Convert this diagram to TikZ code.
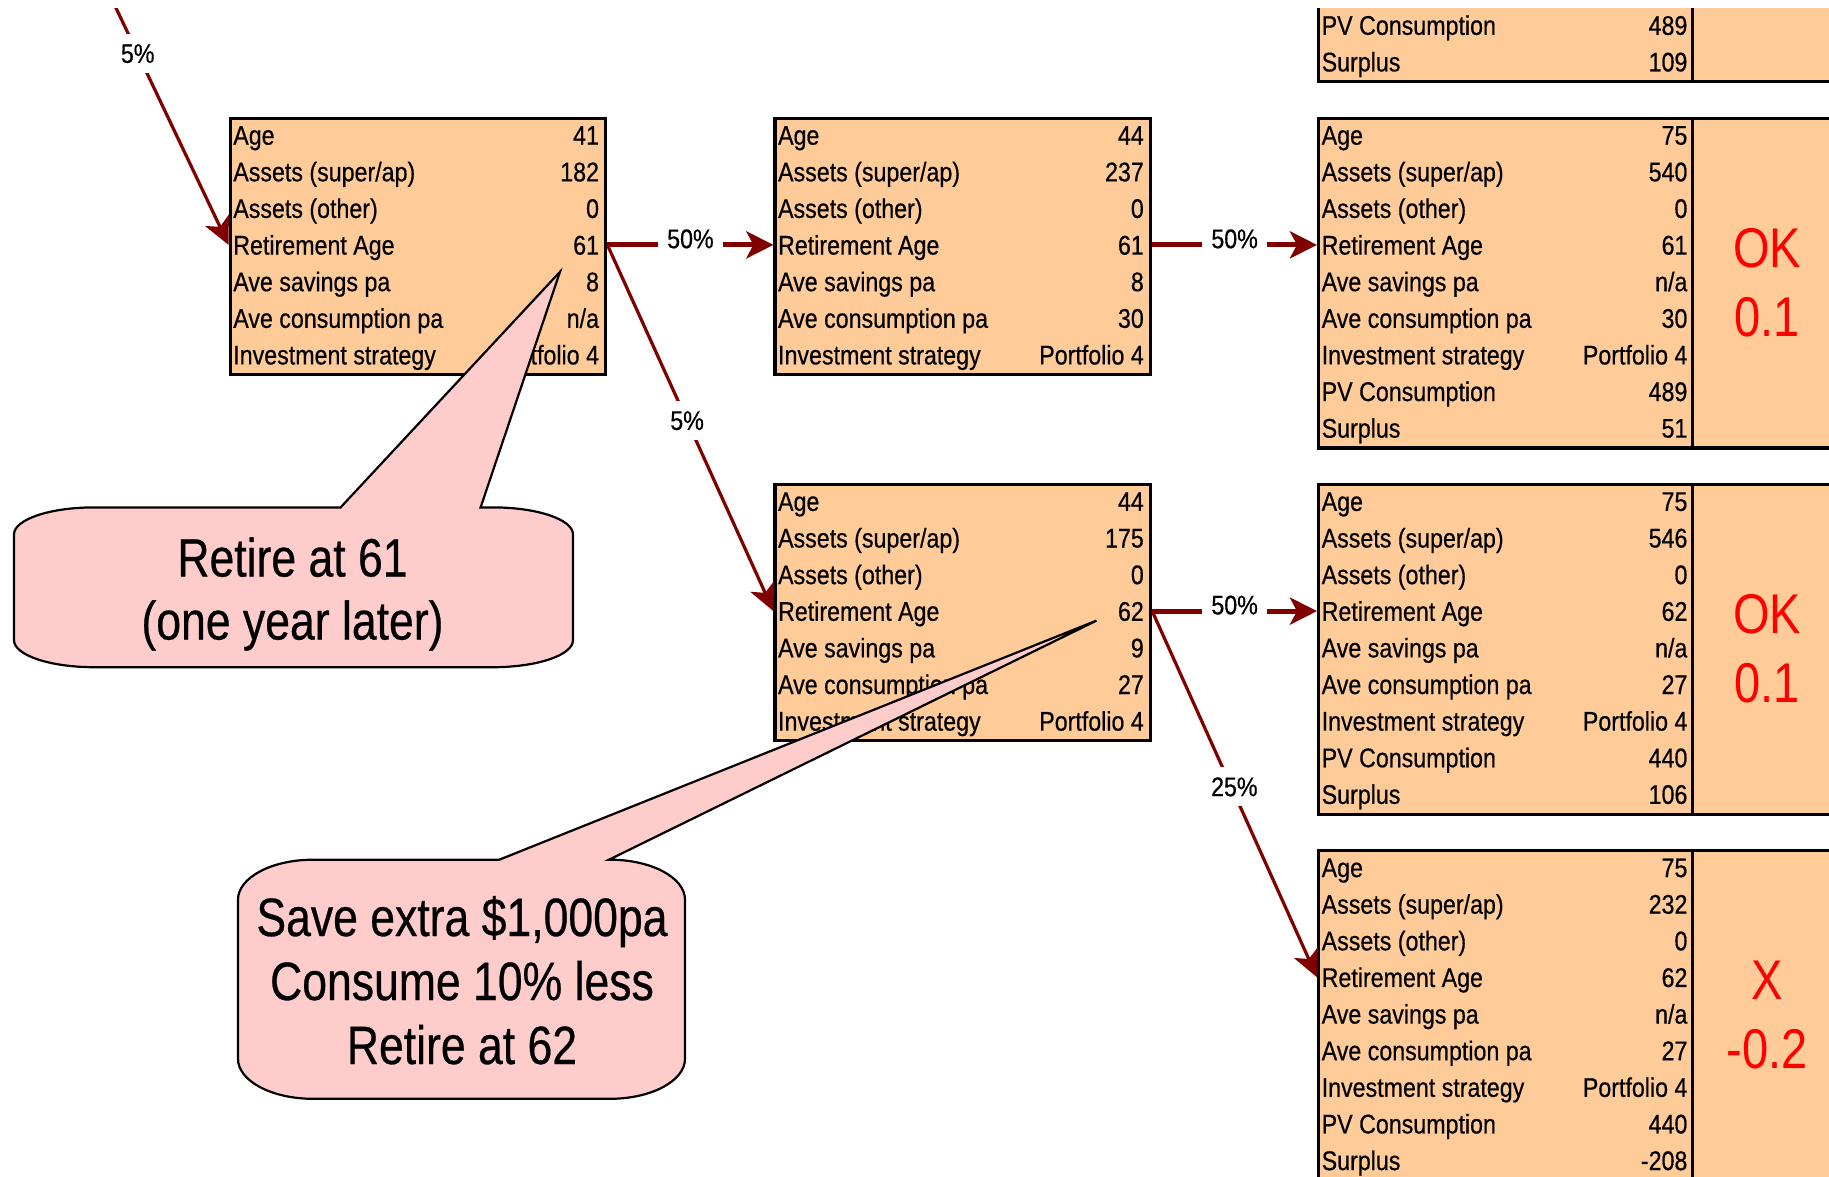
\documentclass[tikz,border=0pt]{standalone}
\usepackage{fontspec}
\setmainfont{Liberation Sans}[FakeStretch=0.86, FakeBold=0.5]
\newfontfamily\callfam{Liberation Sans}[FakeStretch=0.825, FakeBold=0.5]
\newfontfamily\resfam{Liberation Sans}[FakeStretch=0.84]
\usetikzlibrary{arrows.meta,calc}
\definecolor{peach}{HTML}{FFCC99}
\definecolor{pinkc}{HTML}{FFCCCC}
\definecolor{arrred}{HTML}{800000}
\definecolor{okred}{HTML}{FF0000}
\newcommand\rowfont{\fontsize{27}{32}\selectfont}
\newcommand\bigfont{\callfam\fontsize{54}{63}\selectfont}
\newcommand\resfont{\resfam\fontsize{56}{66}\selectfont}
\def\pitch{36.62}
\newcommand\rowpair[4]{%
  \node[lbl] (#1-l#2) at ({\bxl+4.5},{\byt+(#2+0.5)*\pitch+9.7}) {#3};
  \node[val] (#1-v#2) at ({\bxr-5},{\byt+(#2+0.5)*\pitch+9.7}) {#4};}
\tikzset{
  databox/.style={draw=black, line width=3.2pt, fill=peach, rectangle, inner sep=0pt, anchor=north west},
  lbl/.style={anchor=base west, inner sep=0pt, font=\rowfont},
  val/.style={anchor=base east, inner sep=0pt, font=\rowfont},
  res/.style={anchor=base, inner sep=0pt, font=\resfont, text=okred},
  divider/.style={draw=black, line width=3pt},
  flow/.style={draw=arrred, line width=5pt, -{Stealth[length=27pt,width=27pt,inset=7pt]}},
  flowdiag/.style={draw=arrred, line width=3.2pt, -{Stealth[length=27pt,width=26pt,inset=7pt]}},
  plbl/.style={fill=white, font=\rowfont, inner xsep=9pt, inner ysep=10pt, text=black},
  callout/.style={draw=black, line width=2.2pt, fill=pinkc, line join=miter},
  ctext/.style={anchor=base, inner sep=0pt, font=\bigfont},
}
\begin{document}
\begin{tikzpicture}[x=1pt, y=-1pt]
\useasboundingbox (0,0) rectangle (1829,1177);
\begin{scope}
\clip (0,8.3) rectangle (1829,1177);
% ---------- boxes ----------
\node[databox, minimum width=375.6pt, minimum height=256.3pt] (A) at (228.6,116.7) {};
\node[databox, minimum width=375.6pt, minimum height=256.3pt] (B) at (773.4,116.7) {};
\node[databox, minimum width=375.6pt, minimum height=256.3pt] (C) at (773.4,482.9) {};
\node[databox, minimum width=560pt, minimum height=329.6pt] (T) at (1317,-249.5) {};
\node[databox, minimum width=560pt, minimum height=329.6pt] (D) at (1317,116.7) {};
\node[databox, minimum width=560pt, minimum height=329.6pt] (E) at (1317,482.9) {};
\node[databox, minimum width=560pt, minimum height=329.6pt] (F) at (1317,849.1) {};
\coordinate (divx) at (1692.6,0);
\draw[divider] (T.north -| divx) -- (T.south -| divx);
\draw[divider] (D.north -| divx) -- (D.south -| divx);
\draw[divider] (E.north -| divx) -- (E.south -| divx);
\draw[divider] (F.north -| divx) -- (F.south -| divx);
% ---------- box A ----------
\def\bxl{228.6}\def\bxr{604.2}\def\byt{116.7}
\rowpair{A}{0}{Age}{41}
\rowpair{A}{1}{Assets (super/ap)}{182}
\rowpair{A}{2}{Assets (other)}{0}
\rowpair{A}{3}{Retirement Age}{61}
\rowpair{A}{4}{Ave savings pa}{8}
\rowpair{A}{5}{Ave consumption pa}{n/a}
\rowpair{A}{6}{Investment strategy}{Portfolio 4}
% ---------- box B ----------
\def\bxl{773.4}\def\bxr{1149}\def\byt{116.7}
\rowpair{B}{0}{Age}{44}
\rowpair{B}{1}{Assets (super/ap)}{237}
\rowpair{B}{2}{Assets (other)}{0}
\rowpair{B}{3}{Retirement Age}{61}
\rowpair{B}{4}{Ave savings pa}{8}
\rowpair{B}{5}{Ave consumption pa}{30}
\rowpair{B}{6}{Investment strategy}{Portfolio 4}
% ---------- box C ----------
\def\bxl{773.4}\def\bxr{1149}\def\byt{482.9}
\rowpair{C}{0}{Age}{44}
\rowpair{C}{1}{Assets (super/ap)}{175}
\rowpair{C}{2}{Assets (other)}{0}
\rowpair{C}{3}{Retirement Age}{62}
\rowpair{C}{4}{Ave savings pa}{9}
\rowpair{C}{5}{Ave consumption pa}{27}
\rowpair{C}{6}{Investment strategy}{Portfolio 4}
% ---------- top partial box ----------
\def\bxl{1317}\def\bxr{1692.6}\def\byt{-249.5}
\rowpair{T}{7}{PV Consumption}{489}
\rowpair{T}{8}{Surplus}{109}
% ---------- box D ----------
\def\bxl{1317}\def\bxr{1692.6}\def\byt{116.7}
\rowpair{D}{0}{Age}{75}
\rowpair{D}{1}{Assets (super/ap)}{540}
\rowpair{D}{2}{Assets (other)}{0}
\rowpair{D}{3}{Retirement Age}{61}
\rowpair{D}{4}{Ave savings pa}{n/a}
\rowpair{D}{5}{Ave consumption pa}{30}
\rowpair{D}{6}{Investment strategy}{Portfolio 4}
\rowpair{D}{7}{PV Consumption}{489}
\rowpair{D}{8}{Surplus}{51}
\node[res] (D-ok) at (1767,267) {OK};
\node[res] (D-sc) at (1767,336) {0.1};
% ---------- box E ----------
\def\bxl{1317}\def\bxr{1692.6}\def\byt{482.9}
\rowpair{E}{0}{Age}{75}
\rowpair{E}{1}{Assets (super/ap)}{546}
\rowpair{E}{2}{Assets (other)}{0}
\rowpair{E}{3}{Retirement Age}{62}
\rowpair{E}{4}{Ave savings pa}{n/a}
\rowpair{E}{5}{Ave consumption pa}{27}
\rowpair{E}{6}{Investment strategy}{Portfolio 4}
\rowpair{E}{7}{PV Consumption}{440}
\rowpair{E}{8}{Surplus}{106}
\node[res] (E-ok) at (1767,633.2) {OK};
\node[res] (E-sc) at (1767,702.2) {0.1};
% ---------- box F ----------
\def\bxl{1317}\def\bxr{1692.6}\def\byt{849.1}
\rowpair{F}{0}{Age}{75}
\rowpair{F}{1}{Assets (super/ap)}{232}
\rowpair{F}{2}{Assets (other)}{0}
\rowpair{F}{3}{Retirement Age}{62}
\rowpair{F}{4}{Ave savings pa}{n/a}
\rowpair{F}{5}{Ave consumption pa}{27}
\rowpair{F}{6}{Investment strategy}{Portfolio 4}
\rowpair{F}{7}{PV Consumption}{440}
\rowpair{F}{8}{Surplus}{-208}
\node[res] (F-ok) at (1767,999.4) {X};
\node[res] (F-sc) at (1767,1068.4) {-0.2};
% ---------- connectors ----------
\coordinate (src) at (102.7,-20);
\coordinate (A-in) at ($(A.north west)+(0,128.2)$);
\coordinate (A-out) at ($(A.north east)+(0,128.2)$);
\coordinate (B-in) at ($(B.north west)+(0,128.2)$);
\coordinate (B-out) at ($(B.north east)+(0,128.2)$);
\coordinate (C-in) at ($(C.north west)+(0,128.2)$);
\coordinate (C-out) at ($(C.north east)+(0,128.2)$);
\coordinate (D-in) at ($(D.north west)+(0,128.2)$);
\coordinate (E-in) at ($(E.north west)+(0,128.2)$);
\coordinate (F-in) at ($(F.north west)+(0,128.2)$);
\draw[flowdiag] (src) -- node[plbl, pos=0.278] (l0) {5\%} (A-in);
\draw[flow] (A-out) -- node[plbl, yshift=6pt] (l1) {50\%} (B-in);
\draw[flowdiag] (A-out) -- node[plbl, pos=0.48] (l2) {5\%} (C-in);
\draw[flow] (B-out) -- node[plbl, yshift=6pt] (l3) {50\%} (D-in);
\draw[flow] (C-out) -- node[plbl, yshift=6pt] (l4) {50\%} (E-in);
\draw[flowdiag] (C-out) -- node[plbl, pos=0.48, xshift=3pt] (l5) {25\%} (F-in);
% ---------- callouts ----------
\coordinate (tip1) at (560,271.8);
\coordinate (tip2) at (1096.5,620.6);
\path[callout] (94,507.4) -- (340.6,507.4) -- (tip1) -- (480.6,507.4) -- (493,507.4)
  .. controls (537.2,507.4) and (573,519.5) .. (573,534.4)
  -- (573,640.2)
  .. controls (573,655.1) and (537.2,667.2) .. (493,667.2)
  -- (94,667.2)
  .. controls (49.8,667.2) and (14,655.1) .. (14,640.2)
  -- (14,534.4)
  .. controls (14,519.5) and (49.8,507.4) .. (94,507.4) -- cycle;
\path[callout] (313,859.7) -- (499.3,859.7) -- (tip2) -- (609,859.7) -- (610,859.7)
  .. controls (651.4,859.7) and (685,877.6) .. (685,899.7)
  -- (685,1058.8)
  .. controls (685,1080.9) and (651.4,1098.8) .. (610,1098.8)
  -- (313,1098.8)
  .. controls (271.6,1098.8) and (238,1080.9) .. (238,1058.8)
  -- (238,899.7)
  .. controls (238,877.6) and (271.6,859.7) .. (313,859.7) -- cycle;
\node[ctext] (c1a) at (292.5,576.5) {Retire at 61};
\node[ctext] (c1b) at (292.5,639.5) {(one year later)};
\node[ctext] (c2a) at (462,936) {Save extra \$1,000pa};
\node[ctext] (c2b) at (462,1000) {Consume 10\% less};
\node[ctext] (c2c) at (462,1064) {Retire at 62};
\end{scope}
\end{tikzpicture}
\end{document}
